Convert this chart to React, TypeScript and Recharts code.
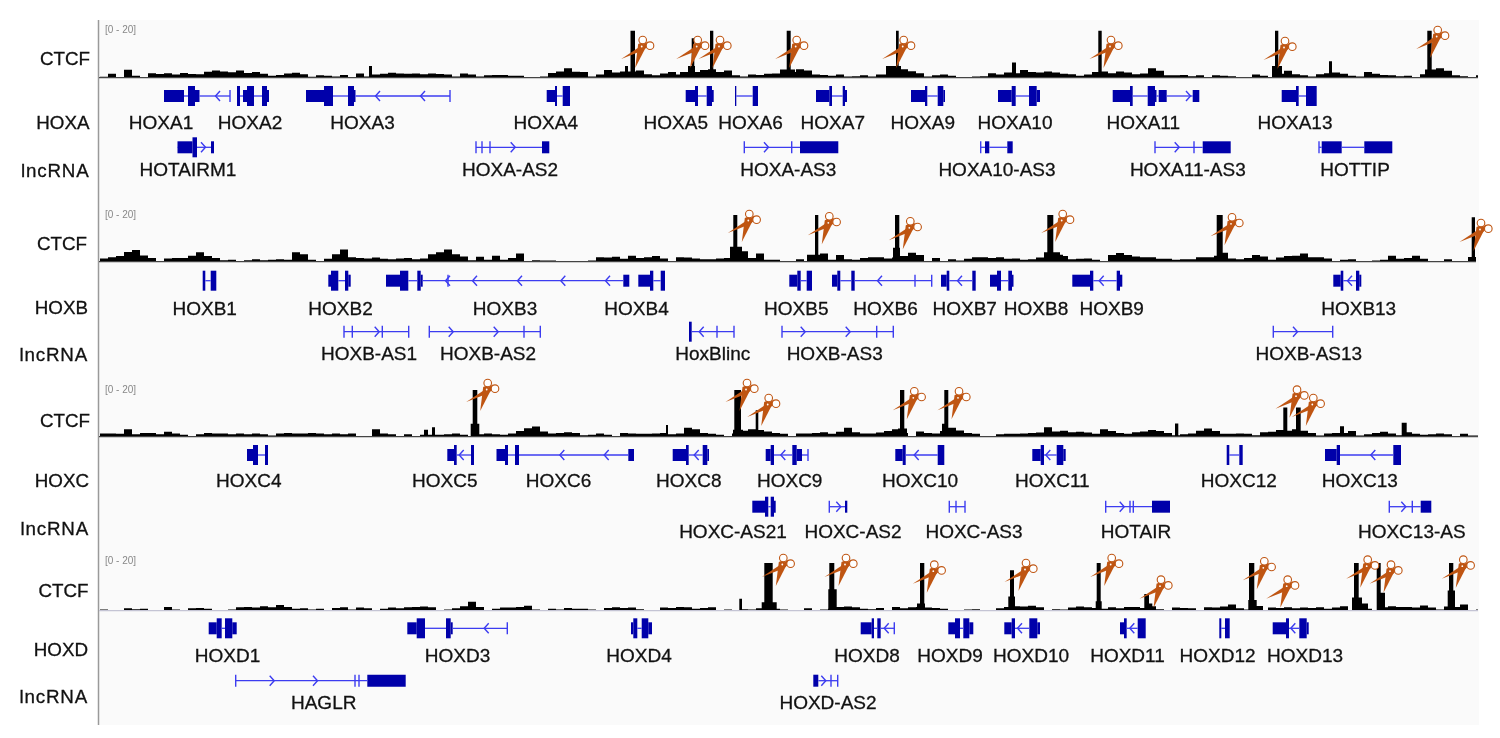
import React from "react";
import { ComposedChart, Area, Scatter, XAxis, YAxis, ReferenceArea, ReferenceLine } from "recharts";

// ---------- CTCF signal (0-20), background bins of 8 units starting at 100 ----------
const ctcfBackgroundA = [
  .4,1.6,.3,3.4,.8,.3,1.9,1.5,1.9,1.3,2,1.5,1.4,2.5,3,2.6,2.3,3,2,2.4,1.6,.8,1.1,1.7,2.1,
  1.4,.4,1,.8,.5,1.1,0,1.7,.5,1.3,1.6,2.1,1.8,1.6,1.7,1.4,1.7,1.5,1.3,.5,1.7,1.3,.5,1,1.1,
  1.1,.8,.8,0,.3,.5,2,2.6,4,2.5,2.4,.5,1.3,3.2,2.2,0,1.4,3,1.4,1,1.8,2.4,1.3,.5,2.4,2.8,3.6,
  2.4,3,1,.5,1.3,1.1,1.6,1.8,.6,2.4,3.6,3,1.3,1.1,.8,1.3,.5,.6,1,.5,1.3,1.3,2.4,3.6,
  2.7,1.9,.5,1,1.3,.8,.3,0,.5,.6,1.9,1.3,2.2,1.9,3.2,2.4,2.2,2.6,2.2,1.6,1.4,.8,1.3,2.4,2.6,
  1.9,2.6,2.2,1.4,1.8,4,2.9,1,1,1.1,.6,1,.3,1,.8,.6,.2,0,1.3,.8,.2,1.6,2.9,1.4,1,
  .5,1.4,1.9,2.2,1.6,.8,.5,2.4,1.6,1.1,1,.6,.8,.3,1.4,1.9,4,2.9,1,.6,.3,1,.5,
];
const ctcfBackgroundB = [
  1.4,1.9,2.4,4.2,5,2.7,1.6,.3,1.4,1.6,1.6,2.6,4,2.4,1.6,.6,.8,0,.6,1,.6,.8,1,.8,4,
  3.2,.8,0,1.3,3.2,5.2,1.9,1.6,1.4,1.8,1.3,1.1,1.4,1.6,1.1,1.4,3.2,4,5.2,3.2,2.2,.6,2.1,.8,2.6,
  .8,1.6,3.5,.3,.6,.5,.5,.2,.3,.2,.3,.5,1.9,1.8,2.1,1.3,2.6,1.6,1.9,2.4,1.4,.2,1.9,1.8,1.4,
  1.1,1.1,1.4,1.6,3.2,4.5,1.6,3.5,.8,.8,.2,.3,1.1,.3,1.6,3.5,.8,2.9,1,.8,1.6,1.9,1.9,1.4,1.8,
  2.4,3.8,2.9,.3,1.6,.3,1,.5,1.3,1.9,1.9,1.6,1.9,1.3,1.4,.8,1.1,1.8,4,4,2.4,1,1.3,1.4,.8,
  .3,2.9,3.7,2.9,2.2,1.9,1.9,1.3,1.3,.8,1.1,1,1.9,1.9,1.9,3.8,1.4,1,1.6,2.9,2.2,.8,1.8,2.4,2.6,
  3.5,1.9,1.9,1.4,.3,.8,1,.2,.2,.5,.8,2.6,1.3,1.6,2.6,1.3,.2,.3,1,.2,.2,1.4,.5,
];
const ctcfBackgroundC = [
  1.4,1.4,1.3,3.2,1,1.6,1.6,1.1,2.1,1.4,.8,.2,1,1.6,1.4,1.4,1,1.4,1.1,1.4,1.1,.5,1.4,1.6,1.4,
  1.4,1.6,1.4,1,1.4,1.1,1.4,.3,0,3.2,1.4,1.1,0,1.1,.2,.8,.8,.8,1,1.4,.8,.2,1.1,1.4,1.1,
  .8,1.4,2.4,3.6,4.4,2.2,1.4,1.6,1.9,1.6,.6,.8,1.4,.8,.3,1.6,1.4,1.3,1.3,1.4,1.6,1.1,1.4,3.8,3.2,
  1.6,1.3,.8,.2,1.4,2.6,3.2,2.9,2.2,1.6,1.3,.3,1.4,1.4,1.6,1.9,1.3,2.1,3.8,1.9,1.4,1.4,1.8,2.4,
  3.2,1.6,.3,2.2,1.6,1.4,2.4,3.8,2.7,1.6,1.3,0,0,1.1,1.3,1.3,1.4,1.6,1.8,4,2.2,2.6,1.9,2.1,1.8,
  1.3,3.2,2.4,1.6,1.3,1.9,2.2,2.9,2.4,1.6,.6,1.1,1.4,2.6,3.5,2.4,1.3,1.3,1.4,1.3,.6,1.9,2.1,2.9,2.4,
  3.2,2.6,1.6,.5,1.4,1.6,1.6,2.4,.5,1,1.6,2.1,1.4,.6,1.9,1.3,.8,1,1.4,1.1,.3,1.3,.5,
];
const ctcfBackgroundD = [
  .5,.2,0,1,.6,.8,0,0,1.6,.5,0,1,1.1,.8,.2,0,.5,1.4,1.6,1.3,1.9,1.4,2.4,1.6,.8,
  1,.5,.8,.2,1.1,1.4,.5,1.3,1,.3,.8,1.3,1,1.4,1.6,1.8,1.4,.2,.5,1,1.9,3.8,1.6,.2,.8,
  1.3,1.3,1.6,2.1,.5,.3,.8,.5,1.1,.8,.8,.5,.2,1.1,1.4,1.1,1.3,.6,0,0,1.3,1.1,1.6,1.4,.8,
  1.1,1.4,.2,.5,.2,.6,.5,1,1.8,.8,.5,.2,.3,1,.2,.5,.8,1.6,1.8,1.4,.8,.6,1.1,.3,1.6,
  1,1.4,1.6,1.3,1.1,.8,.2,0,.5,.6,.2,.2,1,1.6,1.9,1.8,2.1,1.4,.3,.6,.5,1.3,1.8,1.4,1.1,
  .8,1.4,1,1.6,1.6,1.1,1.9,.6,.3,1.3,1.1,1,.3,1.4,1.3,1.8,2.6,1,.5,.3,.2,1.3,1.1,1.4,1,
  1.3,1.1,1.4,.8,1.3,1.9,.3,1,.8,.2,1.4,1.9,1.6,1.6,1.3,2.2,1.3,.5,1.8,1.6,2.6,.3,.5,
];

// [from, to, signal]
const ctcfPeaksA = [[369,372,5],[620,641,2.6],[625,628,5],[630.5,635,20],[680,700,2.4],[688,695,5],[691.7,694.3,16.8],[700,716,3.2],[710,713.3,20],[780,795,3.5],[786.7,790.7,20],[886,901,5],[896,898.7,20],[1012,1016,6.4],[1098.3,1101.7,20],[1272,1282,5],[1275,1278.3,20],[1329,1332,7],[1425,1438,3.5],[1427.3,1431.7,20]];
const ctcfPeaksB = [[730,742,6.4],[733.3,737.3,20],[807,820,3],[815,818.3,20],[893,900,6],[895,899.3,20],[908,915,3.5],[1045,1063,3],[1047.3,1053.3,20],[1214,1225,2.5],[1216.7,1222.7,20],[1468,1476,2],[1471.7,1475,19]];
const ctcfPeaksC = [[470.7,479.3,5.5],[472.7,477.3,20],[432,435,4],[424,428,3],[666,668,5],[733,743,3],[734.3,741,20],[755.7,758.3,11.3],[898,907,3.5],[900,904.3,20],[942,950,3],[942,948,5.5],[944.3,948.3,20],[1175,1178.3,5.7],[1278,1308,2.5],[1283.3,1287.3,12.5],[1296,1300.7,12.5],[1340,1344,4.5],[1401.7,1406.7,6]];
const ctcfPeaksD = [[739.3,742,5],[761.7,776.7,3.5],[764.3,772.7,20],[828.3,836.7,9],[829.3,834.3,20],[917,925,3],[920,924.3,20],[1008.3,1015,6],[1010,1014,17],[1095.7,1101.7,4],[1096.7,1100.7,20],[1144.3,1149,7],[1149,1152.3,3],[1248.3,1256.7,4.5],[1249,1254.3,20],[1256.7,1263,2],[1352,1362,5.5],[1354,1358.7,20],[1362,1368,3],[1376.7,1385,7.5],[1376.7,1380.7,20],[1447.7,1455,8.5],[1449,1453.3,20]];

// ---------- Gene models on the shared genomic coordinate ----------
type Gene = { s: number; e: number; utr?: number[][]; cds?: number[][]; ticks?: number[]; left?: number[]; right?: number[] };

const hoxaGenes: Gene[] = [
  { s: 164, e: 230, utr: [[164,184],[195,199.5]], cds: [[188,195]], ticks: [230], left: [218] },
  { s: 237, e: 269, utr: [[243,247],[267,269]], cds: [[237,240],[247,254],[262,267]] },
  { s: 306, e: 450, utr: [[306,324],[354,355.5]], cds: [[324,333],[348,354]], ticks: [450], left: [378,423] },
  { s: 547, e: 570, utr: [[546.7,555]], cds: [[555,557],[562.7,570]] },
  { s: 686, e: 714, utr: [[685.7,695],[712,713.7]], cds: [[695,698],[706.7,712]] },
  { s: 735, e: 758, cds: [[735,736.3],[752.7,758]] },
  { s: 816, e: 847, utr: [[816,829.3],[845,847]], cds: [[829.3,832],[842.7,845]] },
  { s: 911, e: 945, utr: [[911,925],[943.3,945]], cds: [[925,927.3],[937.7,943.3]] },
  { s: 998, e: 1040, utr: [[998,1011.7],[1036.7,1040]], cds: [[1011.7,1015.7],[1029,1036.7]] },
  { s: 1113, e: 1199, utr: [[1112.7,1130],[1155,1156.5],[1158.7,1166.7],[1192.7,1199.3]], cds: [[1130,1132.7],[1147.7,1155]], right: [1188] },
  { s: 1282, e: 1316, utr: [[1281.7,1296]], cds: [[1296,1298.7],[1306,1316.7]] },
];
const hoxaLnc: Gene[] = [
  { s: 177, e: 214, utr: [[177.5,192.5],[211,214]], cds: [[192.5,197]], right: [203] },
  { s: 476, e: 549, utr: [[542,549.3]], ticks: [476,482,490], right: [512.7] },
  { s: 744, e: 838, utr: [[800,838.3]], ticks: [744.3,791.7], right: [766] },
  { s: 981, e: 1012, utr: [[985,989.3],[1007.3,1012.7]], ticks: [980.7] },
  { s: 1155, e: 1230, utr: [[1202.7,1230.7]], ticks: [1155,1194], right: [1176.7] },
  { s: 1319, e: 1392, utr: [[1321.7,1341.7],[1364.3,1392.3]], ticks: [1319] },
];
const hoxbGenes: Gene[] = [
  { s: 203, e: 216, cds: [[202.7,205.3],[210.7,216.3]] },
  { s: 328, e: 351, utr: [[328.3,331],[348.3,350.7]], cds: [[331,338.3],[345,348.3]] },
  { s: 386, e: 629, utr: [[386,400],[420.7,422.7],[623.3,629.3]], cds: [[400,408.3],[417.3,420.7]], ticks: [448], left: [448,475,520,563.3,608] },
  { s: 638, e: 665, utr: [[638.3,650]], cds: [[650,653.3],[660.7,665]] },
  { s: 789, e: 812, utr: [[789.3,797.3]], cds: [[797.3,800.7],[806.7,812]] },
  { s: 832, e: 932, utr: [[832,837.3]], cds: [[837.3,840.3],[851.3,854.7]], ticks: [915,931.7], left: [880] },
  { s: 941, e: 976, utr: [[941,946.7]], cds: [[946.7,949.3],[972.3,975.7]], left: [960] },
  { s: 990, e: 1013, utr: [[990,997],[1012,1013.5]], cds: [[997,1001],[1008.3,1012]] },
  { s: 1072, e: 1122, utr: [[1072.3,1090],[1120,1122.3]], cds: [[1090,1093.3],[1116.7,1120]], left: [1101.7] },
  { s: 1333, e: 1361, utr: [[1333.3,1340.7],[1359.3,1361.3]], cds: [[1340.7,1343.3],[1356,1359.3]], left: [1350] },
];
const hoxbLnc: Gene[] = [
  { s: 344, e: 409, ticks: [344,352.3,382.3,408.7], right: [376.7] },
  { s: 429, e: 540, ticks: [429.3,524,540.3], right: [450.7,495.7] },
  { s: 691, e: 734, cds: [[689,691.7]], ticks: [717,734], left: [701.7] },
  { s: 782, e: 893, ticks: [782,876.7,893.3], right: [802.7,847.7] },
  { s: 1273, e: 1333, ticks: [1273.3,1332.7], right: [1295] },
];
const hoxcGenes: Gene[] = [
  { s: 247, e: 268, utr: [[247,253]], cds: [[253,258],[265,268]] },
  { s: 447, e: 474, utr: [[447.3,454]], cds: [[454,456.7],[471,474]], left: [461.7] },
  { s: 497, e: 634, utr: [[496.5,505],[628.3,634]], cds: [[505,508],[515,519]], left: [562.3,606.7] },
  { s: 673, e: 709, utr: [[672.7,686],[707.3,709]], cds: [[686,688.7],[702.7,707.3]], left: [696.7] },
  { s: 766, e: 808, utr: [[765.7,770.7],[796.7,802]], cds: [[770.7,774],[792.3,796.7]], ticks: [808], left: [783.3] },
  { s: 895, e: 944, utr: [[895.3,902.7]], cds: [[902.7,905.7],[937.7,944.3]], left: [916.7] },
  { s: 1032, e: 1066, utr: [[1032.3,1040.7],[1063.3,1065.7]], cds: [[1040.7,1044],[1056.7,1063.3]], left: [1048.3] },
  { s: 1227, e: 1243, cds: [[1226.7,1229.3],[1239.3,1242.7]] },
  { s: 1325, e: 1401, utr: [[1325,1336.7]], cds: [[1336.7,1340],[1393.3,1401]], left: [1373.3] },
];
const hoxcLnc: Gene[] = [
  { s: 752, e: 776, utr: [[752.3,765],[774,775.7]], cds: [[765,768.3],[770.7,774]] },
  { s: 829, e: 847, utr: [[845,847.3]], ticks: [829.3], right: [838.3] },
  { s: 949, e: 965, ticks: [949.3,956,965] },
  { s: 1106, e: 1170, utr: [[1152,1170]], ticks: [1105.7,1130,1133.3], right: [1121.7] },
  { s: 1389, e: 1431, utr: [[1420.7,1431.3]], ticks: [1389.3,1412.3], right: [1403.3] },
];
const hoxdGenes: Gene[] = [
  { s: 209, e: 237, utr: [[208.7,216.7],[232.3,236.7]], cds: [[216.7,221.7],[225,232.3]] },
  { s: 407, e: 507, utr: [[407.3,416.7],[450.7,452.7]], cds: [[416.7,425],[446,450.7]], ticks: [507.3], left: [486.7] },
  { s: 631, e: 652, utr: [[631,633.3],[648.3,652]], cds: [[633.3,637.3],[641.7,648.3]] },
  { s: 861, e: 894, utr: [[860.7,871.7]], cds: [[871.7,874],[877.3,880.7]], ticks: [894.3], left: [886.7] },
  { s: 948, e: 973, utr: [[948.3,955],[969.3,973.3]], cds: [[955,960],[963.3,969.3]] },
  { s: 1004, e: 1040, utr: [[1004.3,1011.7],[1037.3,1040]], cds: [[1011.7,1015],[1029.3,1037.3]], left: [1020] },
  { s: 1120, e: 1146, utr: [[1120,1124]], cds: [[1124,1126.7],[1137.7,1145.7]], left: [1132.3] },
  { s: 1219, e: 1230, cds: [[1219.3,1221.3],[1225,1229.7]] },
  { s: 1273, e: 1309, utr: [[1272.7,1286],[1306.7,1308.7]], cds: [[1286,1289],[1299.3,1306.7]], left: [1293.3] },
];
const hoxdLnc: Gene[] = [
  { s: 236, e: 405, utr: [[367.3,405.7]], ticks: [235.7,355,359], right: [271.7,315] },
  { s: 813, e: 838, utr: [[813.3,818.3]], ticks: [831,837.7], right: [823.3] },
];

// ---------- Text ----------
const hoxaLabels: [string, number][] = [["HOXA1",161],["HOXA2",250],["HOXA3",362.5],["HOXA4",545.8],["HOXA5",675.8],["HOXA6",750.5],["HOXA7",832.8],["HOXA9",922.8],["HOXA10",1015],["HOXA11",1143.3],["HOXA13",1295]];
const hoxaLncLabels: [string, number][] = [["HOTAIRM1",188],["HOXA-AS2",510],["HOXA-AS3",788.3],["HOXA10-AS3",997],["HOXA11-AS3",1187.8],["HOTTIP",1355]];
const hoxbLabels: [string, number][] = [["HOXB1",204.7],["HOXB2",340.5],["HOXB3",505],["HOXB4",636.5],["HOXB5",796.3],["HOXB6",885.5],["HOXB7",964.7],["HOXB8",1036],["HOXB9",1111.7],["HOXB13",1358.7]];
const hoxbLncLabels: [string, number][] = [["HOXB-AS1",369],["HOXB-AS2",488],["HoxBlinc",712.8],["HOXB-AS3",834.7],["HOXB-AS13",1308.8]];
const hoxcLabels: [string, number][] = [["HOXC4",248.8],["HOXC5",444.8],["HOXC6",558.5],["HOXC8",688.8],["HOXC9",789.7],["HOXC10",920],["HOXC11",1052.3],["HOXC12",1238.8],["HOXC13",1359.8]];
const hoxcLncLabels: [string, number][] = [["HOXC-AS21",733],["HOXC-AS2",853],["HOXC-AS3",974],["HOTAIR",1136],["HOXC13-AS",1411.8]];
const hoxdLabels: [string, number][] = [["HOXD1",227.5],["HOXD3",457.5],["HOXD4",639],["HOXD8",867],["HOXD9",950],["HOXD10",1031],["HOXD11",1127.5],["HOXD12",1217.5],["HOXD13",1305]];
const hoxdLncLabels: [string, number][] = [["HAGLR",323.7],["HOXD-AS2",828]];

// Cut sites (scissors)
const cutsA = [[641.7,47],[696.7,47],[719,47],[795.7,47],[902.7,47],[1110,47],[1284,48],[1436.7,37]];
const cutsB = [[748.3,221],[828.3,223.3],[909.3,228.3],[1061.7,221],[1231,224.3],[1480,230]];
const cutsC = [[486.7,390],[746,390],[767.7,405],[913.3,398.3],[958,398.3],[1296,396.7],[1312.3,405]];
const cutsD = [[782.3,565],[845,565],[933.3,571.7],[1025,570],[1110.7,565],[1160,586.7],[1263.3,568.3],[1286.7,586.7],[1366.7,566.7],[1390,571.7],[1462.3,566.7]];

// ---------- Layout ----------
const W = 1500, H = 738;
const panels = [
  { id: "A", bins: ctcfBackgroundA, peaks: ctcfPeaksA, base: 77.6, top: 30.7, geneY: 96, lncY: 147.3, genes: hoxaGenes, lnc: hoxaLnc, labels: hoxaLabels, lncLabels: hoxaLncLabels, labelY: 122.7, lncLabelY: 169.3, cuts: cutsA, rangeY: 29.5, x2: 1478, axis: "#444" },
  { id: "B", bins: ctcfBackgroundB, peaks: ctcfPeaksB, base: 261.7, top: 215, geneY: 280.7, lncY: 331.7, genes: hoxbGenes, lnc: hoxbLnc, labels: hoxbLabels, lncLabels: hoxbLncLabels, labelY: 308.3, lncLabelY: 353, cuts: cutsB, rangeY: 214, x2: 1476, axis: "#444" },
  { id: "C", bins: ctcfBackgroundC, peaks: ctcfPeaksC, base: 436.7, top: 390, geneY: 455, lncY: 506.7, genes: hoxcGenes, lnc: hoxcLnc, labels: hoxcLabels, lncLabels: hoxcLncLabels, labelY: 480, lncLabelY: 531.7, cuts: cutsC, rangeY: 389.5, x2: 1478, axis: "#444" },
  { id: "D", bins: ctcfBackgroundD, peaks: ctcfPeaksD, base: 610.7, top: 563, geneY: 628.3, lncY: 680.7, genes: hoxdGenes, lnc: hoxdLnc, labels: hoxdLabels, lncLabels: hoxdLncLabels, labelY: 655, lncLabelY: 702, cuts: cutsD, rangeY: 560.5, x2: 1478, axis: "#c4c4d4" },
];
const trackNames = [
  { text: "CTCF", x: 90, y: 58.3 }, { text: "HOXA", x: 89.5, y: 122 }, { text: "lncRNA", x: 89.5, y: 170 },
  { text: "CTCF", x: 87, y: 243 }, { text: "HOXB", x: 88, y: 307 }, { text: "lncRNA", x: 88, y: 354 },
  { text: "CTCF", x: 90, y: 420 }, { text: "HOXC", x: 89, y: 480.7 }, { text: "lncRNA", x: 89, y: 528 },
  { text: "CTCF", x: 88.5, y: 590 }, { text: "HOXD", x: 88, y: 649 }, { text: "lncRNA", x: 88, y: 696.7 },
];

const EXON = "#0000aa", INTRON = "#3c3cf0";
const FONT = "'Liberation Sans', Arial, sans-serif";

function signalSeries(bins: number[], peaks: number[][], xEnd: number) {
  const edges = new Set<number>();
  bins.forEach((_, i) => { if (100 + i * 8 < xEnd) edges.add(100 + i * 8); });
  peaks.forEach(([a, b]) => { edges.add(a); edges.add(b); });
  edges.add(xEnd);
  return [...edges].sort((a, b) => a - b).map((x) => {
    let s = bins[Math.floor((x - 100) / 8)] ?? 0;
    peaks.forEach(([a, b, v]) => { if (x >= a && x < b && v > s) s = v; });
    return { x, s };
  });
}

const TextShape = (p: any) => (
  <text x={p.cx} y={p.cy} textAnchor={p.payload.anchor} dominantBaseline="central" fontFamily={FONT}
    fontSize={p.payload.size} fill={p.payload.color} stroke={p.payload.color} strokeWidth={p.payload.weight}
    letterSpacing={p.payload.spacing}>
    {p.payload.text}
  </text>
);

const ChevronShape = (p: any) => {
  const d = p.payload.dir;
  return <path d={`M${p.cx - d * 2} ${p.cy - 5}L${p.cx + d * 2.5} ${p.cy}L${p.cx - d * 2} ${p.cy + 5}`} fill="none" stroke={INTRON} strokeWidth={1.4} />;
};

const ScissorsShape = (p: any) => {
  const { cx: x, cy: y } = p;
  const c = "#bf5512";
  return (
    <g>
      <path d={`M${x - 20.5} ${y + 12}L${x + 6} ${y - 5.5}L${x + 7} ${y - 1}L${x + 1} ${y + 3.5}Z`} fill={c} />
      <path d={`M${x - 6.5} ${y + 21}L${x - 3.5} ${y - 3}L${x + 1} ${y - 5}L${x + 3.5} ${y + 1.5}Z`} fill={c} />
      <circle cx={x + 1} cy={y - 7} r={3.8} fill="#fff" stroke={c} strokeWidth={1.1} />
      <circle cx={x + 8.3} cy={y - 1.3} r={3.8} fill="#fff" stroke={c} strokeWidth={1.1} />
      <circle cx={x} cy={y - 0.5} r={0.9} fill="#fff" />
    </g>
  );
};

function intronSpans(g: Gene) {
  const blocks = [...(g.utr ?? []), ...(g.cds ?? [])].sort((a, b) => a[0] - b[0]);
  const spans: number[][] = [];
  let cur = g.s;
  blocks.forEach(([a, b]) => {
    if (a > cur) spans.push([cur, a]);
    cur = Math.max(cur, b);
  });
  if (g.e > cur) spans.push([cur, g.e]);
  return spans;
}

function geneMarks(genes: Gene[], y: number, key: string) {
  const out: React.ReactNode[] = [];
  genes.forEach((g, i) => {
    intronSpans(g).forEach(([a, b], j) => out.push(
      <ReferenceLine key={`${key}l${i}-${j}`} yAxisId="track" stroke={INTRON} strokeWidth={1.3}
        segment={[{ x: a, y }, { x: b, y }]} />));
    (g.ticks ?? []).forEach((t, j) => out.push(
      <ReferenceLine key={`${key}t${i}-${j}`} yAxisId="track" stroke={INTRON} strokeWidth={1.4}
        segment={[{ x: t, y: y - 6 }, { x: t, y: y + 6 }]} />));
    (g.utr ?? []).forEach(([a, b], j) => out.push(
      <ReferenceArea key={`${key}u${i}-${j}`} yAxisId="track" x1={a} x2={b} y1={y - 6} y2={y + 6} fill={EXON} fillOpacity={1} stroke="none" />));
    (g.cds ?? []).forEach(([a, b], j) => out.push(
      <ReferenceArea key={`${key}c${i}-${j}`} yAxisId="track" x1={a} x2={b} y1={y - 10} y2={y + 10} fill={EXON} fillOpacity={1} stroke="none" />));
  });
  return out;
}

export default function App() {
  const chevrons = panels.flatMap((p) => [
    ...[[p.genes, p.geneY], [p.lnc, p.lncY]].flatMap(([gs, y]: any) => gs.flatMap((g: Gene) => [
      ...(g.left ?? []).map((x) => ({ x, y, dir: -1 })),
      ...(g.right ?? []).map((x) => ({ x, y, dir: 1 })),
    ])),
  ]);
  const txt = (text: string, x: number, y: number, anchor = "middle", size = 19, color = "#111", weight = 0.3, spacing = 0) =>
    ({ x, y, text, anchor, size, color, weight, spacing });
  const texts = [
    ...trackNames.map((t) => txt(t.text, t.x, t.y, "end", 18.8, "#111", 0.3, t.text === "lncRNA" ? 0.8 : 0)),
    ...panels.flatMap((p) => [
      txt("[0 - 20]", 105, p.rangeY, "start", 10, "#888", 0),
      ...p.labels.map(([n, x]) => txt(n, x, p.labelY)),
      ...p.lncLabels.map(([n, x]) => txt(n, x, p.lncLabelY)),
    ]),
  ];
  const cuts = panels.flatMap((p) => p.cuts.map(([x, y]) => ({ x, y })));

  return (
    <div style={{ position: "absolute", left: 0, top: 0, width: W, height: H, background: "#fff", overflow: "hidden" }}>
      <div style={{ position: "absolute", left: 99, top: 20, width: 1380, height: 705, background: "#fafafa" }} />
      <div style={{ position: "absolute", left: 0, top: 0, filter: "blur(0.45px)" }}>
        <ComposedChart width={W} height={H} margin={{ top: 0, right: 0, bottom: 0, left: 0 }}>
          <XAxis dataKey="x" type="number" domain={[0, W]} hide allowDataOverflow />
          <YAxis yAxisId="track" dataKey="y" type="number" domain={[0, H]} reversed hide allowDataOverflow />
          {panels.map((p) => {
            const k = (p.base - p.top) / 20;
            return <YAxis key={p.id} yAxisId={p.id} type="number" domain={[-(H - p.base) / k, p.base / k]} hide allowDataOverflow />;
          })}
          <ReferenceLine yAxisId="track" stroke="#9a9a9a" strokeWidth={1.5} segment={[{ x: 98.5, y: 20 }, { x: 98.5, y: 725 }]} />
          {panels.map((p) => (
            <Area key={p.id} yAxisId={p.id} data={signalSeries(p.bins, p.peaks, p.x2)} dataKey="s" type="stepAfter"
              fill="#000" fillOpacity={1} stroke="none" isAnimationActive={false} dot={false} activeDot={false} />
          ))}
          {panels.map((p) => (
            <ReferenceLine key={p.id} yAxisId="track" stroke={p.axis} strokeWidth={1.2}
              segment={[{ x: 99, y: p.base }, { x: p.x2, y: p.base }]} />
          ))}
          {panels.flatMap((p) => [...geneMarks(p.genes, p.geneY, p.id + "g"), ...geneMarks(p.lnc, p.lncY, p.id + "n")])}
          <Scatter yAxisId="track" data={chevrons} dataKey="y" shape={ChevronShape} isAnimationActive={false} />
          <Scatter yAxisId="track" data={texts} dataKey="y" shape={TextShape} isAnimationActive={false} />
          <Scatter yAxisId="track" data={cuts} dataKey="y" shape={ScissorsShape} isAnimationActive={false} />
        </ComposedChart>
      </div>
    </div>
  );
}
